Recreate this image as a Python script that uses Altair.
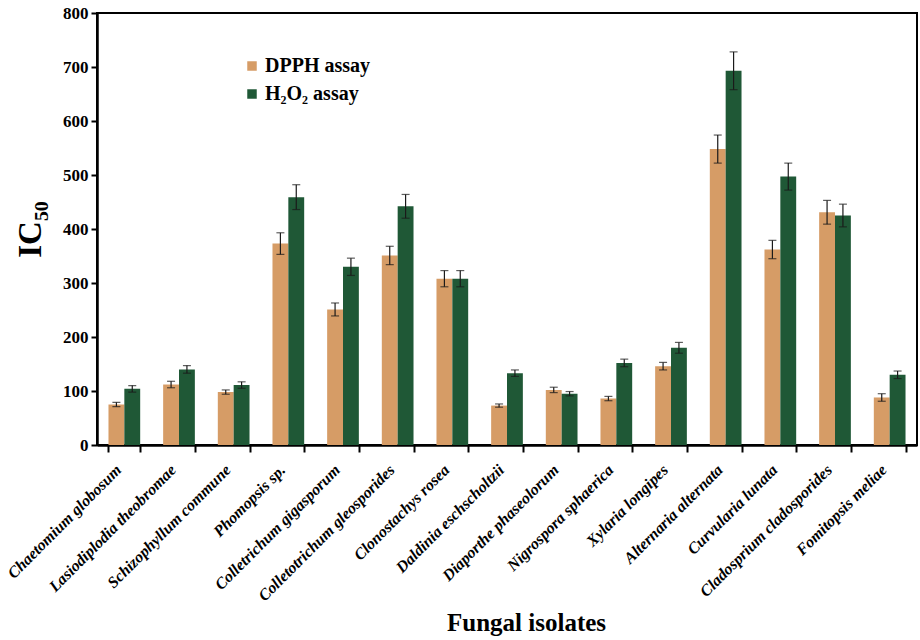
import altair as alt
import pandas as pd

# Fungal isolates and their IC50 values (mean ± error) for two antioxidant assays
isolates = [
    "Chaetomium globosum",
    "Lasiodiplodia theobromae",
    "Schizophyllum commune",
    "Phomopsis sp.",
    "Colletrichum gigasporum",
    "Colletotrichum gleosporides",
    "Clonostachys rosea",
    "Daldinia eschscholtzii",
    "Diaporthe phaseolorum",
    "Nigrospora sphaerica",
    "Xylaria longipes",
    "Alternaria alternata",
    "Curvularia lunata",
    "Cladosprium cladosporides",
    "Fomitopsis meliae",
]
assays = ["DPPH assay", "H₂O₂ assay"]

dpph = [75, 112, 98, 373, 251, 351, 308, 73, 102, 86, 146, 548, 362, 431, 88]
dpph_err = [4, 6, 4, 20, 12, 17, 15, 3, 5, 4, 7, 26, 17, 22, 7]
h2o2 = [104, 140, 111, 459, 330, 442, 308, 133, 95, 152, 180, 693, 497, 425, 130]
h2o2_err = [6, 7, 6, 23, 16, 22, 15, 6, 4, 7, 10, 35, 25, 21, 7]

colors = ["#d69c66", "#1f5836"]

rows = []
for name, v, e in zip(isolates, dpph, dpph_err):
    rows.append({"isolate": name, "assay": assays[0], "value": v, "lo": v - e, "hi": v + e})
for name, v, e in zip(isolates, h2o2, h2o2_err):
    rows.append({"isolate": name, "assay": assays[1], "value": v, "lo": v - e, "hi": v + e})
df = pd.DataFrame(rows)

FONT = "Liberation Serif"

x_enc = alt.X(
    "isolate:N",
    sort=isolates,
    scale=alt.Scale(paddingInner=0.42, paddingOuter=0.21),
    axis=alt.Axis(
        title="Fungal isolates",
        titleFont=FONT,
        titleFontSize=25,
        titleFontWeight="bold",
        titleColor="black",
        titleX=429,
        titleAlign="center",
        titleY=165,
        titleBaseline="top",
        labelAngle=-45,
        labelAlign="right",
        labelBaseline="middle",
        labelFont=FONT,
        labelFontSize=16,
        labelFontWeight="bold",
        labelFontStyle="italic",
        labelColor="black",
        labelPadding=15,
        labelOffset=-6,
        labelLimit=300,
        tickBand="extent",
        tickSize=7,
        tickWidth=2,
        tickColor="black",
        domainWidth=2.5,
        domainColor="black",
    ),
)
x_off = alt.XOffset("assay:N", sort=assays, scale=alt.Scale(paddingInner=0, paddingOuter=0))

y_axis = alt.Axis(
    title="IC₅₀",
    titleFont=FONT,
    titleFontSize=33,
    titleFontWeight="bold",
    titleColor="black",
    titlePadding=15,
    values=list(range(0, 801, 100)),
    labelFont=FONT,
    labelFontSize=17,
    labelFontWeight="bold",
    labelColor="black",
    labelPadding=3,
    tickSize=6,
    tickWidth=2,
    tickColor="black",
    domainWidth=2.5,
    domainColor="black",
    grid=False,
)
y_scale = alt.Scale(domain=[0, 800], nice=False)

base = alt.Chart(df)

bars = base.mark_bar(stroke=None).encode(
    x=x_enc,
    xOffset=x_off,
    y=alt.Y("value:Q", scale=y_scale, axis=y_axis),
    color=alt.Color(
        "assay:N",
        sort=assays,
        scale=alt.Scale(domain=assays, range=colors),
        legend=alt.Legend(
            title=None,
            orient="none",
            legendX=145,
            legendY=43,
            symbolType="square",
            symbolSize=90,
            symbolStrokeWidth=0,
            labelFont=FONT,
            labelFontSize=20,
            labelFontWeight="bold",
            labelColor="black",
            labelOffset=3,
            rowPadding=8,
        ),
    ),
)

whiskers = base.mark_rule(color="#1a1a1a", strokeWidth=1.2).encode(
    x=alt.X("isolate:N", sort=isolates),
    xOffset=x_off,
    y="lo:Q",
    y2="hi:Q",
)

caps_hi = base.mark_tick(color="#1a1a1a", thickness=1.2, size=8).encode(
    x=alt.X("isolate:N", sort=isolates),
    xOffset=x_off,
    y="hi:Q",
)
caps_lo = base.mark_tick(color="#1a1a1a", thickness=1.2, size=8).encode(
    x=alt.X("isolate:N", sort=isolates),
    xOffset=x_off,
    y="lo:Q",
)

chart = (
    alt.layer(bars, whiskers, caps_hi, caps_lo)
    .properties(
        width=820,
        height=432,
        autosize=alt.AutoSizeParams(type="none"),
        padding={"left": 97, "top": 13, "right": 3, "bottom": 195},
        background="white",
    )
    .configure_view(stroke="black", strokeWidth=2)
)

chart.save("out.html", embed_options={"renderer": "svg", "actions": False})
